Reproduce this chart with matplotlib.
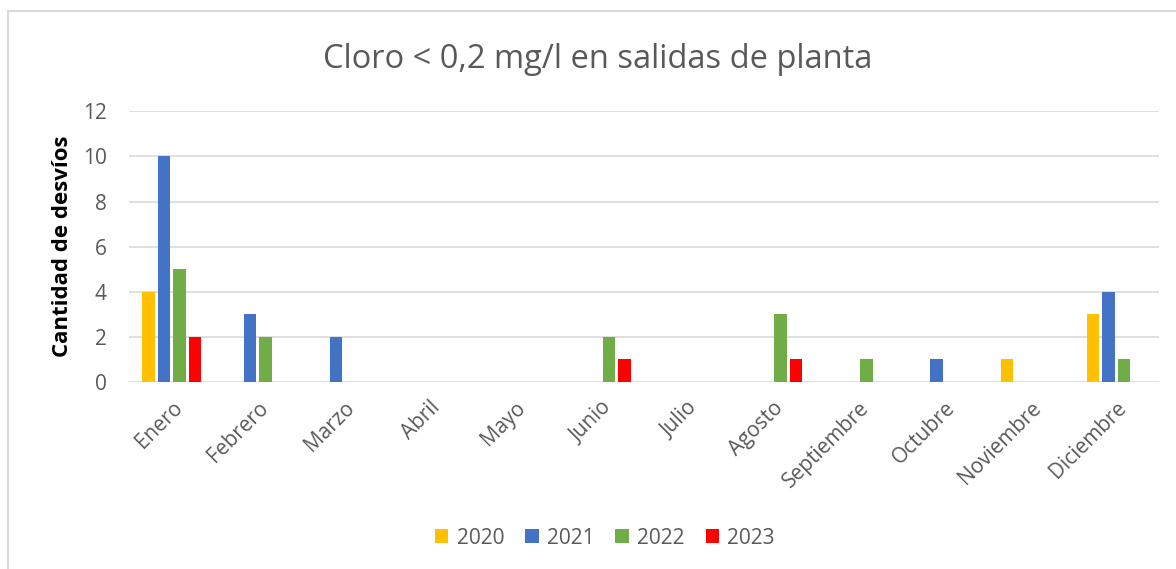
import numpy as np
import matplotlib
matplotlib.use('Agg')
from matplotlib import pyplot as plt
from matplotlib.patches import Rectangle

meses = ['Enero', 'Febrero', 'Marzo', 'Abril', 'Mayo', 'Junio', 'Julio',
         'Agosto', 'Septiembre', 'Octubre', 'Noviembre', 'Diciembre']
anios = ['2020', '2021', '2022', '2023']
v2020 = [4, 0, 0, 0, 0, 0, 0, 0, 0, 0, 1, 3]
v2021 = [10, 3, 2, 0, 0, 0, 0, 0, 0, 1, 0, 4]
v2022 = [5, 2, 0, 0, 0, 2, 0, 3, 1, 0, 0, 1]
v2023 = [2, 0, 0, 0, 0, 1, 0, 1, 0, 0, 0, 0]
colores = ['#FFC000', '#4472C4', '#70AD47', '#FF0000']

plt.rcParams['font.family'] = ['Open Sans', 'DejaVu Sans']
gris = '#595959'

fig = plt.figure(figsize=(11.76, 5.69), dpi=100)
ax = fig.add_axes([129 / 1176, 1 - 382 / 569, 1030 / 1176, (382 - 111.3) / 569])

x = np.arange(len(meses))
paso = 0.18
for i, (serie, c, lab) in enumerate(zip([v2020, v2021, v2022, v2023], colores, anios)):
    ax.bar(x + (i - 1.5) * paso, serie, width=0.146, color=c, label=lab,
           linewidth=0, zorder=3)

ax.set_xlim(-0.5, len(meses) - 0.5)
ax.set_ylim(0, 12)
ax.set_yticks(range(0, 13, 2))
ax.grid(axis='y', color='#D9D9D9', linewidth=1.2, zorder=0)
for s in ax.spines.values():
    s.set_visible(False)
ax.tick_params(axis='both', length=0, labelsize=15, colors=gris)
ax.tick_params(axis='y', pad=16)
ax.set_xticks(x)
ax.set_xticklabels(meses, rotation=45, ha='right', va='top', rotation_mode='anchor')
ax.tick_params(axis='x', pad=11)

ax.set_ylabel('Cantidad de desvíos', fontsize=16, fontweight='bold', color='black', labelpad=7)
fig.text(0.508, 1 - 59 / 569, 'Cloro < 0,2 mg/l en salidas de planta', ha='center', va='center',
         fontsize=23.5, color=gris)

ax.legend(loc='center', bbox_to_anchor=(0.462, (382 - 538) / (382 - 111.3)), ncol=4, frameon=False,
          fontsize=15, labelcolor=gris, handlelength=0.65, handleheight=0.65, handletextpad=0.4,
          columnspacing=1.0)

fig.patches.append(Rectangle((7.5 / 1176, -0.1), 1.2, 1 - 11 / 569 + 0.1, transform=fig.transFigure,
                             fill=False, edgecolor='#D9D9D9', linewidth=1.5))

plt.savefig('out.png', dpi=100)
